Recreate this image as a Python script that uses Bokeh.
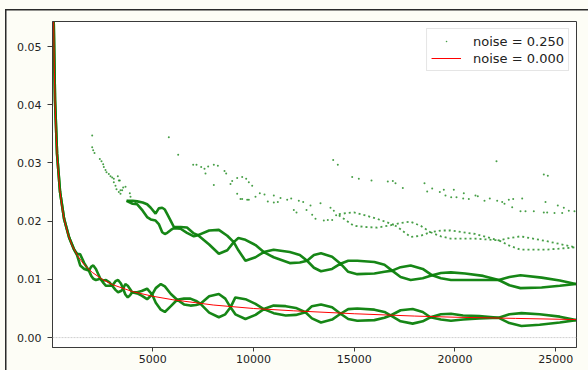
from bokeh.plotting import figure
from bokeh.models import Range1d, FixedTicker, Legend, LegendItem, Span
from bokeh.embed import file_html
from bokeh.resources import INLINE

# ---------------- data ----------------
x_ticks = [5000, 10000, 15000, 20000, 25000]
x_tick_labels = ["5000", "10000", "15000", "20000", "25000"]
y_ticks = [0.0, 0.01, 0.02, 0.03, 0.04, 0.05]
y_tick_labels = ["0.00", "0.01", "0.02", "0.03", "0.04", "0.05"]

# noise = 0.000 (red curve)
red_x = [85, 100, 120, 150, 200, 250, 300, 400, 500, 600, 800, 1000, 1300, 1600,
         2000, 2500, 3000, 4000, 5000, 6000, 8000, 10000, 12000, 15000, 18000,
         20000, 23000, 26000]
red_y = [0.0542, 0.0500, 0.0456, 0.0408, 0.0354, 0.0316, 0.0289, 0.0250, 0.0224,
         0.0204, 0.0177, 0.0158, 0.0139, 0.0125, 0.0112, 0.0100, 0.0091, 0.0079,
         0.0071, 0.0065, 0.0056, 0.0050, 0.0046, 0.0041, 0.0037, 0.0035, 0.0033,
         0.0031]

# noise = 0.250 : lower dense braid (upper / lower envelope)
low_x = [85, 150, 250, 400, 600, 850, 1100, 1250, 1400, 1600,
         1830, 1950, 2050, 2180, 2400, 2550, 2680, 2850, 2990, 3150,
         3280, 3420, 3530, 3640, 3760, 3880, 3980, 4230, 4450, 4720,
         4970, 5150, 5400, 5600, 5900, 6210, 6550, 6870, 7150, 7370,
         7800, 8280, 8600, 8860, 9100, 9600, 10100, 10510, 11000, 11600,
         12100, 12580, 12900, 13350, 13900, 14320, 14700, 15150, 16000, 16500,
         16800, 17300, 17900, 18400, 18780, 19300, 19800, 20400, 21200, 22170,
         22700, 23300, 24200, 25200, 26000]
low_up = [0.0542, 0.0408, 0.0316, 0.0250, 0.0204, 0.0172, 0.0151, 0.0144, 0.0143, 0.0128,
          0.0115, 0.0122, 0.0124, 0.0118, 0.0101, 0.0098, 0.0099, 0.0095, 0.0089, 0.0097,
          0.0099, 0.0093, 0.0084, 0.0092, 0.0089, 0.0083, 0.0078, 0.0078, 0.0080, 0.0084,
          0.0074, 0.0085, 0.0092, 0.0088, 0.0075, 0.0065, 0.0067, 0.0067, 0.0063, 0.0058,
          0.0071, 0.0075, 0.0067, 0.0052, 0.0069, 0.0066, 0.0058, 0.0049, 0.0055, 0.0054,
          0.0051, 0.00435, 0.0054, 0.0057, 0.0052, 0.0041, 0.0049, 0.0050, 0.0048, 0.0044,
          0.0038, 0.0047, 0.0049, 0.0044, 0.0035, 0.0040, 0.0041, 0.0038, 0.0037, 0.0034,
          0.0040, 0.0042, 0.0040, 0.0036, 0.0030]
low_lo = [0.0542, 0.0408, 0.0316, 0.0250, 0.0204, 0.0172, 0.0151, 0.0141, 0.0124, 0.0118,
          0.0115, 0.0106, 0.0101, 0.0099, 0.0101, 0.0094, 0.0089, 0.0089, 0.0089, 0.0082,
          0.0078, 0.0080, 0.0084, 0.0074, 0.0069, 0.0073, 0.0078, 0.0076, 0.0072, 0.0066,
          0.0074, 0.0060, 0.0048, 0.0044, 0.0054, 0.0065, 0.0057, 0.0055, 0.0056, 0.0058,
          0.0043, 0.0035, 0.0040, 0.0052, 0.0040, 0.0032, 0.0039, 0.0049, 0.0042, 0.0038,
          0.0039, 0.00435, 0.0033, 0.0026, 0.0031, 0.0041, 0.0032, 0.0029, 0.0030, 0.0034,
          0.0038, 0.0028, 0.0024, 0.0028, 0.0035, 0.0031, 0.0029, 0.0031, 0.0033, 0.0034,
          0.0025, 0.0020, 0.0022, 0.0026, 0.0030]

# noise = 0.250 : middle dense braid
mid_x = [3700, 4000, 4230, 4500, 4720, 4900, 5140, 5300, 5470, 5600,
         5720, 5900, 6050, 6380, 6700, 7040, 7250, 7800, 8280, 8700,
         9020, 9250, 9600, 10100, 10510, 11000, 11800, 12300, 12660, 13000,
         13350, 13900, 14320, 14700, 15150, 16000, 16500, 16880, 17300, 17800,
         18400, 18870, 19300, 19800, 20500, 21400, 22170, 22700, 23250, 24300,
         25200, 26000]
mid_up = [0.0235, 0.0235, 0.0234, 0.0232, 0.0229, 0.0223, 0.0213, 0.0222, 0.0223, 0.0220,
          0.0212, 0.0200, 0.0190, 0.0190, 0.0189, 0.0179, 0.0176, 0.0184, 0.0185, 0.0175,
          0.0164, 0.0171, 0.0168, 0.0159, 0.0147, 0.0151, 0.0147, 0.0142, 0.0132, 0.0142,
          0.0145, 0.0139, 0.0127, 0.0132, 0.0132, 0.0130, 0.0125, 0.0115, 0.0121, 0.0124,
          0.0118, 0.0107, 0.0111, 0.0112, 0.0110, 0.0106, 0.0099, 0.0104, 0.0107, 0.0103,
          0.0098, 0.0092]
mid_lo = [0.0235, 0.0230, 0.0229, 0.0218, 0.0207, 0.0203, 0.0201, 0.0195, 0.0181, 0.0178,
          0.0180, 0.0185, 0.0188, 0.0187, 0.0180, 0.0174, 0.0176, 0.0160, 0.0144, 0.0150,
          0.0164, 0.0150, 0.0132, 0.0138, 0.0147, 0.0138, 0.0128, 0.0129, 0.0132, 0.0120,
          0.0114, 0.0118, 0.0127, 0.0113, 0.0109, 0.0110, 0.0113, 0.0115, 0.0104, 0.0099,
          0.0102, 0.0107, 0.0102, 0.0099, 0.0099, 0.0099, 0.0099, 0.0090, 0.0085, 0.0086,
          0.0089, 0.0092]

# noise = 0.250 : upper, dotted braid (right part)
up_x = [14235, 14650, 14980, 15550, 16140, 16630, 16960, 17300, 17790, 18300,
        18780, 19300, 19780, 21000, 22175, 22700, 23250, 24500, 25980]
up_hi = [0.0212, 0.0214, 0.0215, 0.0210, 0.0204, 0.0198, 0.0194, 0.0197, 0.0199, 0.0192,
         0.0181, 0.0184, 0.0184, 0.0178, 0.0167, 0.0171, 0.0174, 0.0166, 0.0155]
up_lo = [0.0210, 0.0200, 0.0192, 0.0190, 0.0189, 0.0192, 0.0194, 0.0186, 0.0173, 0.0175,
         0.0181, 0.0174, 0.0170, 0.0170, 0.0167, 0.0158, 0.0151, 0.0151, 0.0155]

# noise = 0.250 : sparse single points
dot_x = [1995, 1995, 2044, 2109, 2373, 2457, 2540, 2572, 2655, 2705, 2820, 2903, 2987,
         3069, 3069, 3151, 3201, 3316, 3400, 3482, 3532, 3367, 3267, 3648, 3863, 3896,
         4144, 3400, 3316,
         5797, 6262, 7006, 7171, 7404, 7568, 7618, 7750, 8032, 8231, 8032, 8561, 8644,
         8859, 8942, 9190, 9439, 9637, 9768, 9935, 9190, 9439, 9686,
         9355, 9768, 10099, 10313, 10546, 10710, 11008, 11207, 11008, 11340, 11673, 11872,
         12250, 12467, 12630, 12829, 12000, 12134, 12913, 13077, 13325, 13490, 13689,
         13821, 13986, 13905, 14100,
         13955, 14184, 14898, 15228, 15856, 16665, 16913, 17047, 17410, 18486, 18620,
         18868, 19246, 19445, 19528, 19941, 19812, 20075, 20437, 20407, 20685, 21017,
         21131, 21464, 21727, 22059, 22094, 22342, 22457, 22670, 22888, 22839, 23335,
         23251, 23499, 23911, 24407, 24606, 24407, 24574, 24491, 24938, 25102, 25320,
         25400, 25648, 25930]
dot_y = [0.0347, 0.0327, 0.0322, 0.0317, 0.0307, 0.0303, 0.0298, 0.0293, 0.0288, 0.0284,
         0.0281, 0.0277, 0.0275, 0.0273, 0.0267, 0.0261, 0.0255, 0.0250, 0.0247, 0.0253,
         0.0258, 0.0270, 0.0277, 0.0259, 0.0248, 0.0242, 0.0232, 0.0253, 0.0270,
         0.0344, 0.0314, 0.0297, 0.0297, 0.0293, 0.0290, 0.0282, 0.0294, 0.0297, 0.0295,
         0.0262, 0.0286, 0.0282, 0.0264, 0.0269, 0.0274, 0.0276, 0.0273, 0.0267, 0.0261,
         0.0247, 0.0238, 0.0237,
         0.0238, 0.0237, 0.0242, 0.0248, 0.0246, 0.0234, 0.0232, 0.0233, 0.0244, 0.0240,
         0.0237, 0.0239, 0.0235, 0.0233, 0.0219, 0.0227, 0.0219, 0.0215, 0.0211, 0.0204,
         0.0231, 0.0201, 0.0202, 0.0223, 0.0218, 0.0202, 0.0210,
         0.0305, 0.0297, 0.0276, 0.0273, 0.0270, 0.0268, 0.0269, 0.0265, 0.0257, 0.0265,
         0.0251, 0.0256, 0.0250, 0.0254, 0.0244, 0.0254, 0.0241, 0.0241, 0.0248, 0.0239,
         0.0238, 0.0244, 0.0243, 0.0235, 0.0239, 0.0303, 0.0235, 0.0233, 0.0230, 0.0237,
         0.0238, 0.0224, 0.0239, 0.0217, 0.0217, 0.0217, 0.0280, 0.0278, 0.0215, 0.0215,
         0.0233, 0.0214, 0.0227, 0.0214, 0.0223, 0.0218, 0.0217]

# ---------------- figure ----------------
BG = "#fdfdf6"
GREEN = "#0a7f0a"
FONT = "DejaVu Sans"

p = figure(width=588, height=370, output_backend="svg", toolbar_location=None,
           title=None,
           x_range=Range1d(25, 26030), y_range=Range1d(-0.0017, 0.0543),
           min_border_left=52, min_border_right=12, min_border_top=21,
           min_border_bottom=23)
p.border_fill_color = BG
p.border_fill_alpha = 0
p.styles = {
    "background-color": BG,
    "background-image": "linear-gradient(#2a2a2a, #2a2a2a), linear-gradient(#2a2a2a, #2a2a2a)",
    "background-size": "1.5px 100%, 100% 1.5px",
    "background-position": "5px 9px, 5px 9px",
    "background-repeat": "no-repeat",
}
p.background_fill_color = "white"
p.outline_line_color = "#3a3a3a"
p.outline_line_width = 1
p.grid.visible = False

p.xaxis.ticker = FixedTicker(ticks=x_ticks)
p.xaxis.major_label_overrides = {t: s for t, s in zip(x_ticks, x_tick_labels)}
p.yaxis.ticker = FixedTicker(ticks=y_ticks)
p.yaxis.major_label_overrides = {t: s for t, s in zip(y_ticks, y_tick_labels)}
for ax in (p.xaxis[0], p.yaxis[0]):
    ax.axis_line_color = "#3a3a3a"
    ax.major_tick_line_color = "#3a3a3a"
    ax.minor_tick_line_color = None
    ax.major_tick_in = 0
    ax.major_label_text_font = FONT
    ax.major_label_text_font_size = "11px"
    ax.major_label_text_color = "#222222"
p.xaxis.major_tick_out = 4
p.xaxis.major_label_standoff = 3
p.yaxis.major_tick_out = 5
p.yaxis.major_label_standoff = 6

p.add_layout(Span(location=0, dimension="width", line_color="#cfcfcf",
                  line_width=1, line_dash="2 1"))

# dense braids
for xs, ys in ((low_x, low_up), (low_x, low_lo), (mid_x, mid_up), (mid_x, mid_lo)):
    p.line(xs, ys, line_color=GREEN, line_width=2.6, line_alpha=0.95)

# dotted braid
for xs, ys in ((up_x, up_hi), (up_x, up_lo)):
    p.line(xs, ys, line_color=GREEN, line_width=1.8, line_alpha=0.75, line_dash="2 3")

dots = p.scatter(dot_x, dot_y, size=8, marker="dot", line_color=GREEN,
                 fill_color=GREEN, line_alpha=0.75, fill_alpha=0.75)

red = p.line(red_x, red_y, line_color="#ff0000", line_width=1)

legend = Legend(items=[LegendItem(label="noise = 0.250", renderers=[dots]),
                       LegendItem(label="noise = 0.000", renderers=[red])],
                location="top_right")
legend.margin = 7
legend.padding = 4
legend.spacing = 1
legend.glyph_width = 30
legend.glyph_height = 16
legend.label_height = 16
legend.label_standoff = 12
legend.label_text_font = FONT
legend.label_text_font_size = "13px"
legend.label_text_color = "#222222"
legend.border_line_color = "#cccccc"
legend.border_line_width = 1
legend.background_fill_alpha = 0.85
p.add_layout(legend)

open("out.html", "w").write(file_html(p, INLINE))
